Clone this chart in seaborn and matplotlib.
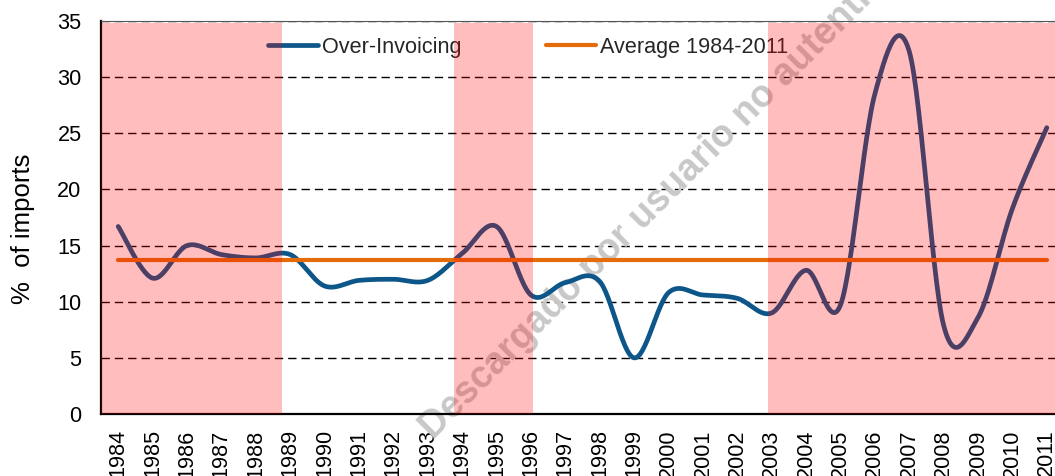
import numpy as np
import seaborn as sns
import matplotlib.pyplot as plt

# data
years = list(range(1984, 2012))
over_invoicing = [16.7, 12.1, 15.0, 14.2, 13.9, 14.2, 11.4, 11.9, 12.0, 11.9,
                  14.3, 16.7, 10.6, 11.7, 11.8, 5.0, 10.8, 10.6, 10.3, 9.0,
                  12.8, 9.7, 28.5, 32.3, 7.9, 8.6, 18.3, 25.5]
average_value = 13.75
shaded_starts = [1983.5, 1993.75, 2002.89]
shaded_ends = [1988.76, 1996.07, 2011.5]
watermark = "Descargado por usuario no autenticado"

NAVY = "#0d5689"
ORANGE = "#e46c0a"


def smooth_curve(x, y, steps=30):
    """Excel-like smoothed line (Catmull-Rom bezier segments)."""
    x = np.asarray(x, float)
    y = np.asarray(y, float)
    px = np.concatenate([[x[0]], x, [x[-1]]])
    py = np.concatenate([[y[0]], y, [y[-1]]])
    t = np.linspace(0, 1, steps)[:, None]
    xs, ys = [], []
    for i in range(1, len(px) - 2):
        p0 = np.array([px[i], py[i]])
        p3 = np.array([px[i + 1], py[i + 1]])
        c1 = p0 + (np.array([px[i + 1], py[i + 1]]) - np.array([px[i - 1], py[i - 1]])) / 6
        c2 = p3 - (np.array([px[i + 2], py[i + 2]]) - p0) / 6
        pts = ((1 - t) ** 3) * p0 + 3 * ((1 - t) ** 2) * t * c1 + 3 * (1 - t) * t ** 2 * c2 + t ** 3 * p3
        xs.append(pts[:, 0])
        ys.append(pts[:, 1])
    return np.concatenate(xs), np.concatenate(ys)


sns.set_theme(style="white")
plt.rcParams["font.family"] = ["Liberation Sans", "DejaVu Sans"]
plt.rcParams["font.size"] = 15.6

fig = plt.figure(figsize=(10.55, 4.76), dpi=100)
ax = fig.add_axes([101 / 1055, 62 / 476, 963 / 1055, 393 / 476])

sx, sy = smooth_curve(years, over_invoicing)
sns.lineplot(x=sx, y=sy, ax=ax, sort=False, estimator=None, color=NAVY,
             linewidth=3.4, solid_capstyle="round", label="Over-Invoicing", zorder=3)
sns.lineplot(x=[years[0], years[-1]], y=[average_value, average_value], ax=ax,
             color=ORANGE, linewidth=3.0, solid_capstyle="round",
             label="Average 1984-2011", zorder=3)

for start, end in zip(shaded_starts, shaded_ends):
    ax.axvspan(start, end, ymin=0, ymax=0.994, facecolor="red", alpha=0.26,
               linewidth=0, zorder=6)

ax.set_xlim(1983.5, 2011.5)
ax.set_ylim(0, 35)
ax.set_yticks(range(0, 36, 5))
ax.set_xticks(years)
ax.set_xticklabels([str(y) for y in years], rotation=90, fontsize=15.6, color="black")
ax.tick_params(axis="y", labelsize=15.6, pad=14, length=0, colors="black")
ax.tick_params(axis="x", pad=11, length=0, colors="black")

for yv in range(5, 36, 5):
    ax.axhline(yv, color="black", linewidth=1.0, linestyle=(0, (6, 3.6)), zorder=1)

for side in ["left", "bottom"]:
    ax.spines[side].set_color("black")
    ax.spines[side].set_linewidth(1.6)
ax.spines["top"].set_color("#555555")
ax.spines["top"].set_linewidth(0.8)
ax.spines["right"].set_visible(False)

ax.set_ylabel("%  of imports", fontsize=18.5, color="black", va="center")
ax.yaxis.set_label_coords(-0.081, 0.47)
ax.set_xlabel("")

leg = ax.legend(loc="center left", bbox_to_anchor=(268 / 1055, 1 - 47 / 476),
                bbox_transform=fig.transFigure, ncol=2, frameon=False,
                fontsize=15.6, handlelength=2.3, handletextpad=0.2,
                columnspacing=3.9, borderpad=0, borderaxespad=0)
leg.set_zorder(5)
for line in leg.get_lines():
    line.set_solid_capstyle("round")

# watermark sits under the shaded bands
ax.text(433 / 1055, 1 - 440 / 476, watermark, transform=fig.transFigure,
        rotation=45, rotation_mode="anchor", ha="left", va="baseline",
        fontsize=27, fontweight="bold", color="#c8c8c8", clip_on=False, zorder=2)

fig.savefig("out.png", dpi=100)
